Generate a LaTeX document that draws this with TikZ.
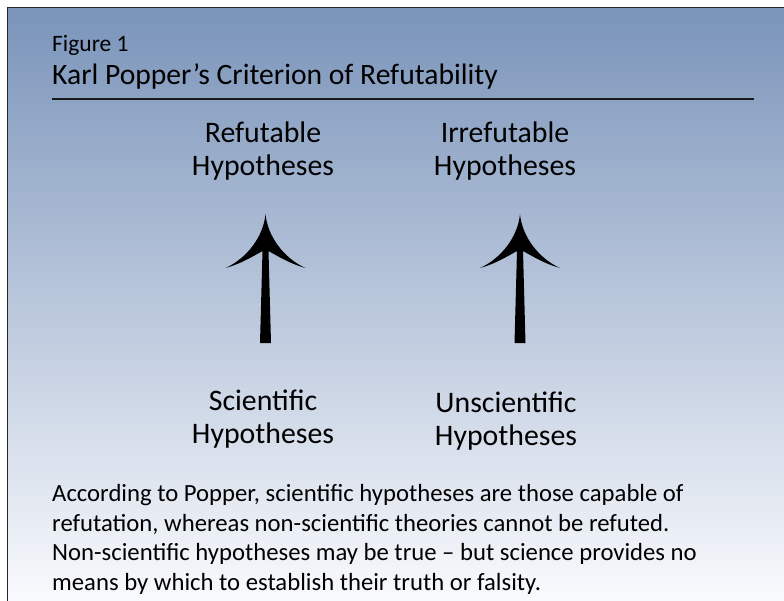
\documentclass[tikz,border=0pt]{standalone}
\usepackage{fontspec}
\setmainfont{Carlito}
\begin{document}
\begin{tikzpicture}[x=1pt,y=-1pt,
  lbl/.style={font=\fontsize{29.8}{33.5}\selectfont, align=center, inner sep=0pt},
  para/.style={font=\fontsize{24.7}{29.5}\selectfont, anchor=base west, inner sep=0pt},
  uparrow/.style={fill=black, draw=none}]
\useasboundingbox (0,0) rectangle (784,600);
\fill[white] (0,0) rectangle (784,600);
\shade[top color={rgb,255:red,122;green,148;blue,186}, middle color={rgb,255:red,172;green,188;blue,214}, bottom color={rgb,255:red,249;green,250;blue,253}] (7.5,7.5) rectangle (784,600);
\draw[line width=1.5pt, black!85] (790,7.5) -- (7.5,7.5) -- (7.5,606);
% header
\node[anchor=base west, inner sep=0pt, font=\fontsize{23.5}{28}\selectfont] (fig) at (52,51) {Figure 1};
\node[anchor=base west, inner sep=0pt, font=\fontsize{29.6}{34}\selectfont] (title) at (52,84) {Karl Popper’s Criterion of Refutability};
\coordinate (ruleL) at (52,99);
\coordinate (ruleR) at (754,99);
\draw[line width=1.6pt, black!90] (ruleL) -- (ruleR);
% labels (base = baseline of last line)
\node[lbl, anchor=base] (ref) at (263,175.5) {Refutable\\Hypotheses};
\node[lbl, anchor=base] (irr) at (505,175.5) {Irrefutable\\Hypotheses};
\node[lbl, anchor=base] (sci) at (263,443.5) {Scientific\\Hypotheses};
\node[lbl, anchor=base] (uns) at (506,445.5) {Unscientific\\Hypotheses};
% arrows
\foreach \cx/\nm in {265.5/a1, 520/a2}{
  \fill[uparrow] (\cx,214) .. controls (\cx-2,236) and (\cx-18,258) .. (\cx-40,268)
    .. controls (\cx-25,264) and (\cx-12,256) .. (\cx-3,251)
    -- (\cx-5.5,343) -- (\cx+5.5,343) -- (\cx+3,251)
    .. controls (\cx+12,256) and (\cx+25,264) .. (\cx+40,268)
    .. controls (\cx+18,258) and (\cx+2,236) .. (\cx,214) -- cycle;
}
% paragraph
\node[para] (p1) at (52,501.5) {According to Popper, scientific hypotheses are those capable of};
\node[para] (p2) at (52,531) {refutation, whereas non-scientific theories cannot be refuted.};
\node[para] (p3) at (52,560.5) {Non-scientific hypotheses may be true – but science provides no};
\node[para] (p4) at (52,590) {means by which to establish their truth or falsity.};
\end{tikzpicture}
\end{document}
